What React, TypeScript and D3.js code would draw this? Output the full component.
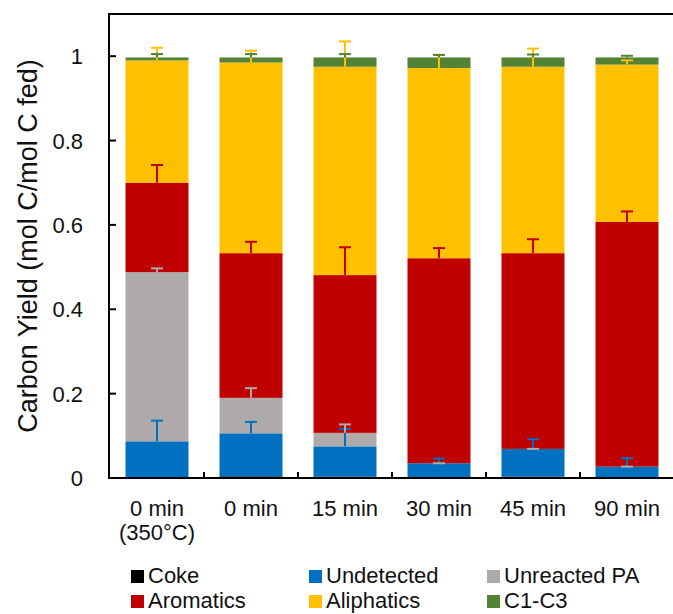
import React from "react";
import * as d3 from "d3";

// bar categories (x labels, second line for the first one)
const categories = ["0 min|(350°C)", "0 min", "15 min", "30 min", "45 min", "90 min"];

// stacked segment heights, bottom to top
const coke = [0.002, 0.004, 0.003, 0.002, 0.003, 0.002];
const undetected = [0.085, 0.102, 0.072, 0.033, 0.066, 0.025];
const unreactedPA = [0.401, 0.084, 0.032, 0, 0, 0];
const aromatics = [0.212, 0.343, 0.374, 0.486, 0.464, 0.58];
const aliphatics = [0.29, 0.452, 0.494, 0.451, 0.442, 0.373];
const c1c3 = [0.007, 0.012, 0.022, 0.025, 0.022, 0.017];

// plus-only error bars
const errCoke = [0, 0, 0, 0, 0, 0];
const errUndetected = [0.049, 0.027, 0.041, 0.011, 0.023, 0.02];
const errPA = [0.009, 0.023, 0.02, 0, 0, 0];
const errAromatics = [0.042, 0.027, 0.066, 0.024, 0.033, 0.025];
const errAliphatics = [0.03, 0.028, 0.06, 0.031, 0.043, 0.01];
const errC1C3 = [0.008, 0.008, 0.008, 0.006, 0.007, 0.004];

const yTicks = [0, 0.2, 0.4, 0.6, 0.8, 1];

const series = [
  { name: "Coke", color: "#000000", values: coke, err: errCoke },
  { name: "Undetected", color: "#0070C0", values: undetected, err: errUndetected },
  { name: "Unreacted PA", color: "#AEAAAA", values: unreactedPA, err: errPA },
  { name: "Aromatics", color: "#C00000", values: aromatics, err: errAromatics },
  { name: "Aliphatics", color: "#FFC000", values: aliphatics, err: errAliphatics },
  { name: "C1-C3", color: "#548235", values: c1c3, err: errC1C3 },
];

const W = 673, H = 614;
const left = 110, right = 674, top = 14, bottom = 478;
const font = "'Liberation Sans', Arial, sans-serif";

export default function App() {
  const x = d3.scaleBand().domain(categories).range([left, right])
    .paddingInner(0.33).paddingOuter(0.165);
  const y = d3.scaleLinear().domain([0, 1.1]).range([bottom, top]);

  const table = categories.map((c, i) => {
    const row: any = { cat: c };
    series.forEach(s => (row[s.name] = s.values[i]));
    return row;
  });
  const stacked = d3.stack().keys(series.map(s => s.name))(table);

  const bw = x.bandwidth();
  const cap = 6;

  return (
    <svg width={W} height={H} style={{ position: "absolute", left: 0, top: 0, background: "#fff" }}
      fontFamily={font}>
      {/* bars */}
      {stacked.map((layer, si) => (
        <g key={si} fill={series[si].color}>
          {layer.map((d, i) => {
            const h = y(d[0]) - y(d[1]);
            if (h <= 0) return null;
            return <rect key={i} x={x(categories[i])} y={y(d[1])} width={bw} height={h} />;
          })}
        </g>
      ))}
      {/* error bars */}
      {stacked.map((layer, si) => {
        if (si === 0) return null;
        const s = series[si];
        return (
          <g key={"e" + si} stroke={s.color} strokeWidth={2}>
            {layer.map((d, i) => {
              const cx = x(categories[i])! + bw / 2;
              const y0 = y(d[1]);
              const y1 = y(d[1] + s.err[i]);
              return (
                <g key={i}>
                  <line x1={cx} x2={cx} y1={y0} y2={y1} />
                  <line x1={cx - cap} x2={cx + cap} y1={y1} y2={y1} />
                </g>
              );
            })}
          </g>
        );
      })}
      {/* frame */}
      <g stroke="#000" strokeWidth={2} fill="none">
        <line x1={left - 1} x2={left - 1} y1={top} y2={bottom + 1} />
        <line x1={left - 2} x2={W} y1={top} y2={top} />
        <line x1={left - 2} x2={W} y1={bottom} y2={bottom} />
        {yTicks.map(t => (
          <line key={t} x1={left - 1} x2={left + 6} y1={y(t)} y2={y(t)} />
        ))}
        {categories.slice(1).map(c => (
          <line key={c} x1={x(c)! - (x.step() - bw) / 2} x2={x(c)! - (x.step() - bw) / 2}
            y1={bottom} y2={bottom - 6} />
        ))}
      </g>
      {/* y tick labels */}
      {yTicks.map(t => (
        <text key={t} x={83} y={y(t) + 8} textAnchor="end" fontSize={22} fill="#111">
          {d3.format("~g")(t)}
        </text>
      ))}
      <text transform={`translate(37,${(top + bottom) / 2}) rotate(-90)`} textAnchor="middle"
        fontSize={27} fill="#111">Carbon Yield (mol C/mol C fed)</text>
      {/* x labels */}
      {categories.map(c => {
        const cx = x(c)! + bw / 2;
        return c.split("|").map((line, li) => (
          <text key={c + li} x={cx} y={516 + li * 24} textAnchor="middle" fontSize={22} fill="#111">
            {line}
          </text>
        ));
      })}
      {/* legend */}
      {series.map((s, i) => {
        const lx = 131 + (i % 3) * 178;
        const ly = 570 + Math.floor(i / 3) * 25;
        return (
          <g key={s.name}>
            <rect x={lx} y={ly} width={13} height={13} fill={s.color} />
            <text x={lx + 17} y={ly + 13} fontSize={22} fill="#111">{s.name}</text>
          </g>
        );
      })}
    </svg>
  );
}
